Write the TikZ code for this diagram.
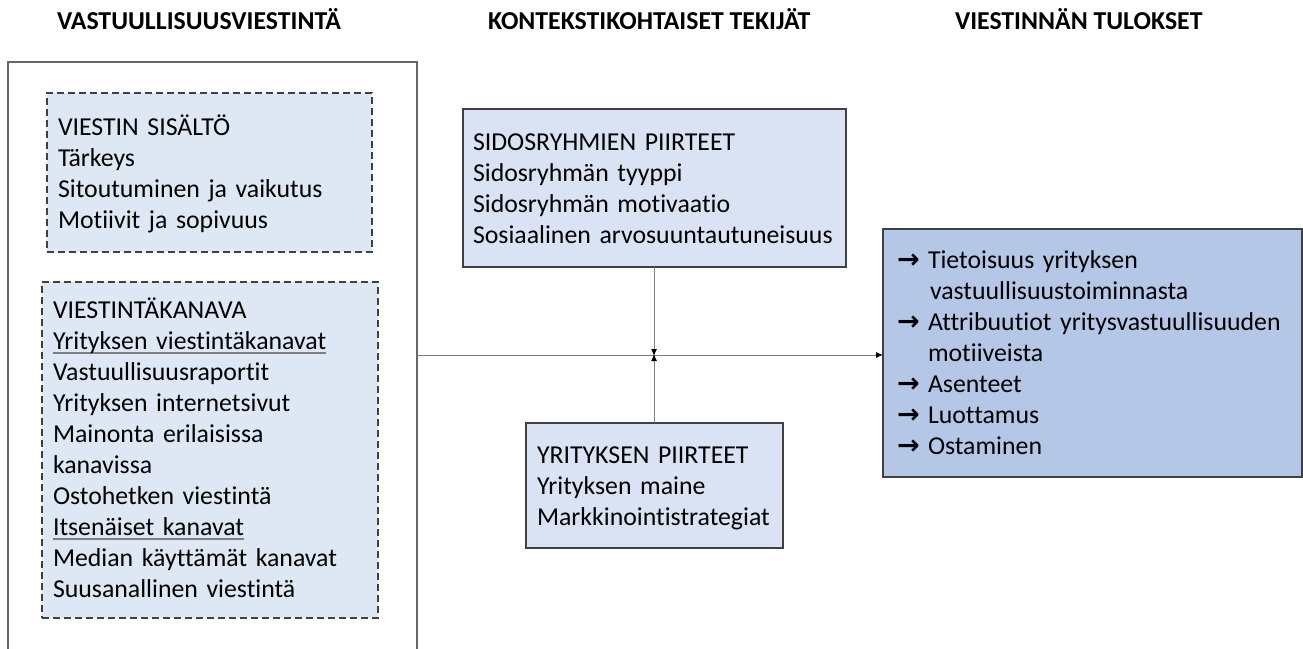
\documentclass[tikz,border=0pt]{standalone}
\usepackage{fontspec}
\setmainfont{Carlito}[Ligatures={NoCommon}]
\newfontfamily\dejavu{DejaVu Sans}
\usetikzlibrary{arrows.meta}
\usepackage{calc}
\definecolor{lightfill}{HTML}{DDE8F4}
\definecolor{midfill}{HTML}{DAE3F3}
\definecolor{resfill}{HTML}{B4C7E7}
\definecolor{edge}{HTML}{404040}
\definecolor{conn}{HTML}{7F7F7F}
\newcommand{\rarr}{\makebox[31pt][l]{\dejavu\bfseries\fontsize{27}{31}\selectfont →}}
\newcommand{\ulgray}[1]{\leavevmode\rlap{\color{conn}\rule[-5pt]{\widthof{#1}}{2.2pt}}#1}
\begin{document}
\begin{tikzpicture}[x=1pt,y=-1pt,
  every node/.style={inner sep=0pt, outer sep=0pt},
  body/.style={font=\fontsize{25.8}{31}\selectfont, anchor=base west, align=left, text width=#1},
  body/.default=400pt,
  title/.style={font=\bfseries\fontsize{25.8}{28}\selectfont, anchor=base west},
  dashbox/.style={draw=edge, dashed, dash pattern=on 7pt off 4pt, line width=1.3pt, fill=lightfill, anchor=north west},
  solidbox/.style={draw=edge, line width=1.3pt, anchor=north west},
  arr/.style={draw=conn, line width=1pt, -{Latex[length=7pt,width=6pt,color=black]}}]
\useasboundingbox (0,0) rectangle (1303,648);
\begin{scope}
\clip (0,0) rectangle (1303,648);
% titles
\node[title] (t1) at (57,29) {VASTUULLISUUSVIESTINTÄ};
\node[title] (t2) at (488,29) {KONTEKSTIKOHTAISET TEKIJÄT};
\node[title] (t3) at (955,29) {VIESTINNÄN TULOKSET};
% outer box
\node[draw=conn!80!black, line width=1.6pt, anchor=north west, minimum width=409pt, minimum height=620pt] (outer) at (8,62) {};
% dashed boxes
\node[dashbox, minimum width=325pt, minimum height=159pt] (sisalto) at (47,93) {};
\node[body] (sisaltotxt) at (58,135) {VIESTIN SISÄLTÖ\\Tärkeys\\Sitoutuminen ja vaikutus\\Motiivit ja sopivuus};
\node[dashbox, minimum width=336pt, minimum height=336pt] (kanava) at (42,282) {};
\node[body] (kanavatxt) at (53,318) {VIESTINTÄKANAVA\\\ulgray{Yrityksen viestintäkanavat}\\Vastuullisuusraportit\\Yrityksen internetsivut\\Mainonta erilaisissa\\kanavissa\\Ostohetken viestintä\\\ulgray{Itsenäiset kanavat}\\Median käyttämät kanavat\\Suusanallinen viestintä};
% middle boxes
\node[solidbox, fill=midfill, minimum width=383pt, minimum height=158pt] (sidos) at (463,109) {};
\node[body] (sidostxt) at (473,150) {SIDOSRYHMIEN PIIRTEET\\Sidosryhmän tyyppi\\Sidosryhmän motivaatio\\Sosiaalinen arvosuuntautuneisuus};
\node[solidbox, fill=midfill, minimum width=257pt, minimum height=125pt] (yrit) at (526,423) {};
\node[body] (yrittxt) at (537,463) {YRITYKSEN PIIRTEET\\Yrityksen maine\\Markkinointistrategiat};
% result box
\node[solidbox, fill=resfill, minimum width=419pt, minimum height=248pt] (result) at (883,229) {};
\node[body=410pt] (resulttxt) at (897,268) {\rarr Tietoisuus yrityksen\\\hspace*{33pt}vastuullisuustoiminnasta\\\rarr Attribuutiot yritysvastuullisuuden\\\hspace*{31pt}motiiveista\\\rarr Asenteet\\\rarr Luottamus\\\rarr Ostaminen};
% connectors
\coordinate (junction) at (654,355);
\draw[arr] (outer.east |- junction) -- (result.west |- junction);
\draw[arr] (sidos.south -| junction) -- ([yshift=-1pt]junction);
\draw[arr] (yrit.north -| junction) -- ([yshift=1pt]junction);
\end{scope}
\end{tikzpicture}
\end{document}
